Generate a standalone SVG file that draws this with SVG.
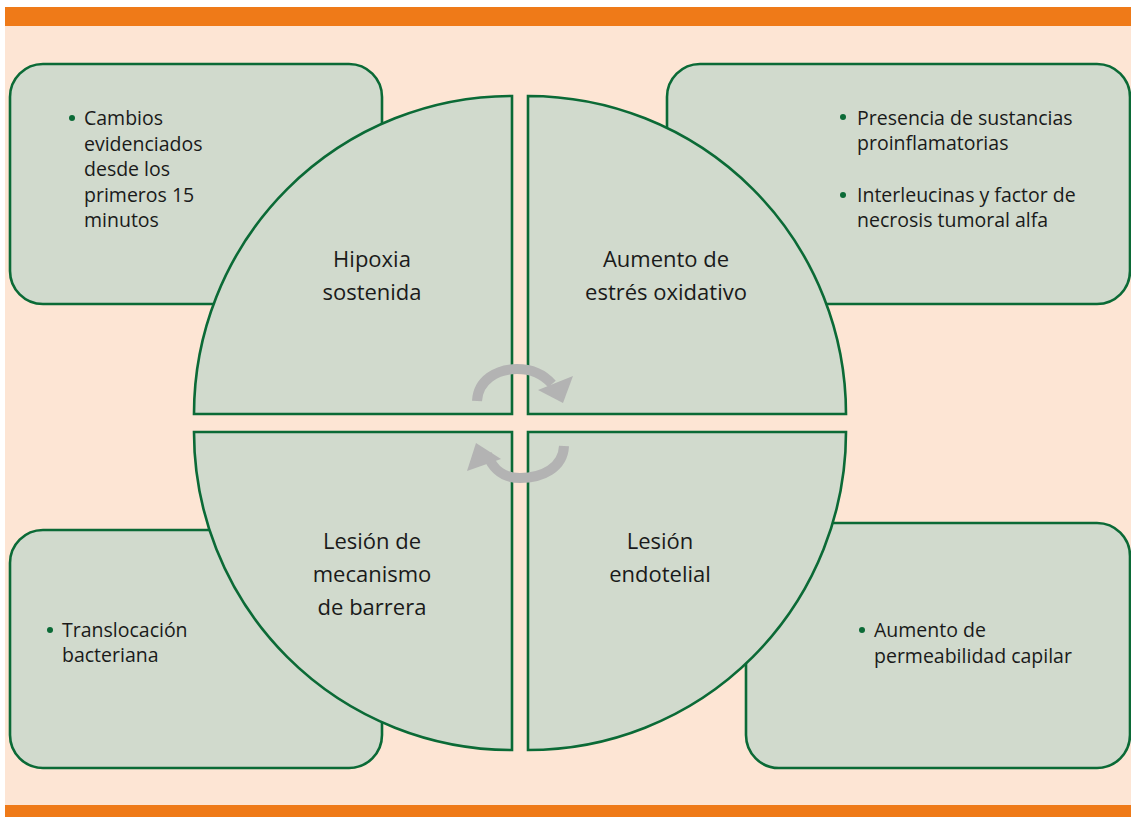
<svg xmlns="http://www.w3.org/2000/svg" width="1131" height="817" viewBox="0 0 1131 817">
<style>
.box{fill:#d1dacd;stroke:#0b6a36;stroke-width:2.6}
.q{fill:#d1dacd;stroke:#0b6a36;stroke-width:2.6;stroke-linejoin:miter}
.lbl{font-family:"Open Sans","Noto Sans","Liberation Sans",sans-serif;font-size:22px;fill:#1a1a1a;text-anchor:middle}
.txt{font-family:"Open Sans","Noto Sans","Liberation Sans",sans-serif;font-size:19.5px;fill:#1a1a1a}
.dot{fill:#0b6a36}
.shaft{fill:none;stroke:#b3b3b3;stroke-width:10}
.head{fill:#b3b3b3}
</style>
<rect x="0" y="0" width="1131" height="817" fill="#ffffff"/>
<rect x="5" y="7" width="1126" height="810" fill="#fde5d4"/>
<rect x="5" y="7" width="1126" height="19" fill="#ef7a18"/>
<rect x="5" y="805" width="1126" height="12" fill="#ef7a18"/>

<g id="box-tl">
<rect class="box" x="10" y="64" width="372" height="240" rx="33"/>
<circle class="dot" cx="72" cy="118" r="3"/>
<text class="txt" x="84" y="125">Cambios</text>
<text class="txt" x="84" y="150.5">evidenciados</text>
<text class="txt" x="84" y="176">desde los</text>
<text class="txt" x="84" y="201.5">primeros 15</text>
<text class="txt" x="84" y="227">minutos</text>
</g>
<g id="box-tr">
<rect class="box" x="667" y="64" width="463" height="240" rx="33"/>
<circle class="dot" cx="843" cy="117" r="3"/>
<text class="txt" x="857" y="125">Presencia de sustancias</text>
<text class="txt" x="857" y="150">proinflamatorias</text>
<circle class="dot" cx="843" cy="195" r="3"/>
<text class="txt" x="857" y="202">Interleucinas y factor de</text>
<text class="txt" x="857" y="227">necrosis tumoral alfa</text>
</g>
<g id="box-bl">
<rect class="box" x="10" y="530" width="372" height="238" rx="33"/>
<circle class="dot" cx="50" cy="630" r="3"/>
<text class="txt" x="62" y="637">Translocación</text>
<text class="txt" x="62" y="662">bacteriana</text>
</g>
<g id="box-br">
<rect class="box" x="746" y="523" width="384" height="245" rx="33"/>
<circle class="dot" cx="862" cy="630" r="3"/>
<text class="txt" x="874" y="637">Aumento de</text>
<text class="txt" x="874" y="663">permeabilidad capilar</text>
</g>

<g id="q-hipoxia">
<path class="q" d="M512,96 L512,414 L194,414 A318,318 0 0 1 512,96 Z"/>
<text class="lbl" x="372" y="267">Hipoxia</text>
<text class="lbl" x="372" y="300">sostenida</text>
</g>
<g id="q-estres">
<path class="q" d="M528,96 A318,318 0 0 1 846,414 L528,414 Z"/>
<text class="lbl" x="666" y="267">Aumento de</text>
<text class="lbl" x="666" y="300">estrés oxidativo</text>
</g>
<g id="q-barrera">
<path class="q" d="M194,432 L512,432 L512,750 A318,318 0 0 1 194,432 Z"/>
<text class="lbl" x="372" y="549">Lesión de</text>
<text class="lbl" x="372" y="582">mecanismo</text>
<text class="lbl" x="372" y="615">de barrera</text>
</g>
<g id="q-endotelial">
<path class="q" d="M528,432 L846,432 A318,318 0 0 1 528,750 Z"/>
<text class="lbl" x="660" y="549">Lesión</text>
<text class="lbl" x="660" y="582">endotelial</text>
</g>

<g id="connectors">
<path class="shaft" d="M477,401 C478,380 497,369 517,369 C532,369 544,375 552,384"/>
<polygon class="head" points="538,390 573,376 563,403"/>
<path class="shaft" d="M564,446 C563,468 542,478 520,478 C505,478 494,472 487,454"/>
<polygon class="head" points="476,443 501,459 467,471"/>
</g>
</svg>
